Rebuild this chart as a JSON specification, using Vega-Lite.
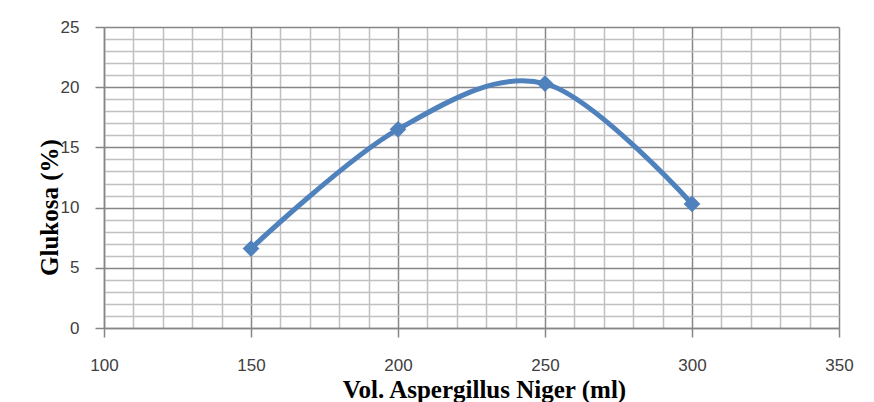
{
  "$schema": "https://vega.github.io/schema/vega-lite/v6.json",
  "width": 735,
  "height": 301,
  "autosize": {"type": "none"},
  "padding": {"left": 104, "top": 27, "right": 35, "bottom": 74},
  "background": "white",
  "config": {"view": {"stroke": null}},
  "data": {
    "values": [
      {"vol": 150, "glukosa": 6.6},
      {"vol": 200, "glukosa": 16.5},
      {"vol": 250, "glukosa": 20.3},
      {"vol": 300, "glukosa": 10.3}
    ]
  },
  "encoding": {
    "x": {
      "field": "vol",
      "type": "quantitative",
      "scale": {"domain": [100, 350], "nice": false, "zero": false},
      "axis": {
        "values": [100,110,120,130,140,150,160,170,180,190,200,210,220,230,240,250,260,270,280,290,300,310,320,330,340,350],
        "labelExpr": "datum.value % 50 === 0 ? datum.label : ''",
        "grid": true,
        "gridColor": {"condition": {"test": "datum.value % 50 === 0", "value": "#868686"}, "value": "#c0c0c0"},
        "gridWidth": 1.5,
        "ticks": true,
        "tickSize": 9,
        "tickWidth": 1.5,
        "tickColor": {"condition": {"test": "datum.value % 50 === 0", "value": "#868686"}, "value": "transparent"},
        "domainColor": "#868686",
        "domainWidth": 1.5,
        "labelFont": "Liberation Sans Narrow, Liberation Sans",
        "labelFontSize": 17,
        "labelColor": "#404040",
        "labelBaseline": "alphabetic",
        "labelPadding": 33,
        "labelOverlap": false,
        "labelFlush": false,
        "title": "Vol. Aspergillus Niger (ml)",
        "titleFont": "Liberation Serif",
        "titleFontWeight": "bold",
        "titleFontSize": 25,
        "titleColor": "#000000",
        "titleBaseline": "alphabetic",
        "titleAlign": "center",
        "titleX": 380,
        "titleY": 69
      }
    },
    "y": {
      "field": "glukosa",
      "type": "quantitative",
      "scale": {"domain": [0, 25], "nice": false},
      "axis": {
        "values": [0,1,2,3,4,5,6,7,8,9,10,11,12,13,14,15,16,17,18,19,20,21,22,23,24,25],
        "labelExpr": "datum.value % 5 === 0 ? datum.label : ''",
        "grid": true,
        "gridColor": {"condition": {"test": "datum.value % 5 === 0", "value": "#868686"}, "value": "#c0c0c0"},
        "gridWidth": 1.5,
        "ticks": true,
        "tickSize": 9,
        "tickWidth": 1.5,
        "tickColor": {"condition": {"test": "datum.value % 5 === 0", "value": "#868686"}, "value": "transparent"},
        "domainColor": "#868686",
        "domainWidth": 1.5,
        "labelFont": "Liberation Sans Narrow, Liberation Sans",
        "labelFontSize": 17,
        "labelColor": "#404040",
        "labelPadding": 16,
        "labelOverlap": false,
        "labelFlush": false,
        "title": "Glukosa (%)",
        "titleFont": "Liberation Serif",
        "titleFontWeight": "bold",
        "titleFontSize": 25,
        "titleColor": "#000000",
        "titleAngle": -90,
        "titleBaseline": "alphabetic",
        "titleAlign": "center",
        "titleX": -47,
        "titleY": 180
      }
    }
  },
  "layer": [
    {"mark": {"type": "line", "interpolate": "cardinal", "color": "#4F81BD", "strokeWidth": 5}},
    {"mark": {"type": "point", "shape": "diamond", "filled": true, "size": 280, "color": "#4F81BD", "opacity": 1}}
  ]
}
